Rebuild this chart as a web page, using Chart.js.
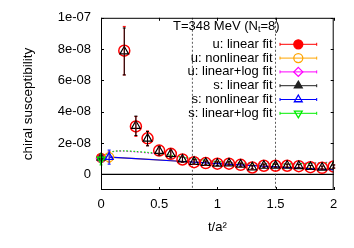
<!DOCTYPE html>
<html>
<head>
<meta charset="utf-8">
<script src="https://cdn.jsdelivr.net/npm/chart.js@4/dist/chart.umd.min.js"></script>
<style>
body { margin: 0; background: #fff; }
</style>
</head>
<body>
<canvas id="grafica" width="354" height="248"></canvas>
<script>
// measured points (flow time t/a^2)
const tData = [0.2, 0.3, 0.4, 0.5, 0.6, 0.7, 0.8, 0.9, 1.0, 1.1, 1.2, 1.3, 1.4, 1.5, 1.6, 1.7, 1.8, 1.9, 2.0];
const uChi = [7.9e-8, 3.06e-8, 2.3e-8, 1.52e-8, 1.31e-8, 0.95e-8, 0.78e-8, 0.72e-8, 0.68e-8, 0.68e-8, 0.61e-8, 0.44e-8, 0.55e-8, 0.55e-8, 0.55e-8, 0.52e-8, 0.46e-8, 0.42e-8, 0.5e-8];
const uErr = [1.55e-8, 0.63e-8, 0.47e-8, 0.28e-8, 0.26e-8, 0.18e-8, 0.15e-8, 0.13e-8, 0.12e-8, 0.12e-8, 0.11e-8, 0.1e-8, 0.1e-8, 0.1e-8, 0.1e-8, 0.1e-8, 0.1e-8, 0.1e-8, 0.1e-8];
const sChi = [7.85e-8, 3.1e-8, 2.28e-8, 1.5e-8, 1.3e-8, 0.95e-8, 0.8e-8, 0.73e-8, 0.68e-8, 0.7e-8, 0.62e-8, 0.45e-8, 0.55e-8, 0.56e-8, 0.55e-8, 0.53e-8, 0.47e-8, 0.43e-8, 0.5e-8];
const sErr = [1.5e-8, 0.62e-8, 0.46e-8, 0.27e-8, 0.25e-8, 0.17e-8, 0.14e-8, 0.12e-8, 0.11e-8, 0.11e-8, 0.1e-8, 0.1e-8, 0.1e-8, 0.1e-8, 0.1e-8, 0.1e-8, 0.1e-8, 0.1e-8, 0.1e-8];

// extrapolated values (u lin, u nonlin, u lin+log, s lin, s nonlin, s lin+log)
const extT = [0, 0.07, 0, 0, 0.07, 0];
const extChi = [1.05e-8, 1.1e-8, 1.0e-8, 1.05e-8, 1.1e-8, 0.95e-8];
const extErr = [0.2e-8, 0.35e-8, 0.2e-8, 0.2e-8, 0.45e-8, 0.35e-8];

// fit curves
const logT = [0, 0.05, 0.1, 0.15, 0.2, 0.3, 0.4, 0.5, 0.6, 0.7, 0.8, 1.0, 1.2, 1.4, 1.6, 1.8, 2.0];
const sLogFit = [0.95e-8, 1.3e-8, 1.45e-8, 1.5e-8, 1.5e-8, 1.46e-8, 1.4e-8, 1.32e-8, 1.22e-8, 1.1e-8, 0.98e-8, 0.82e-8, 0.72e-8, 0.67e-8, 0.66e-8, 0.7e-8, 0.76e-8];
const uLogFit = [1.0e-8, 1.32e-8, 1.45e-8, 1.49e-8, 1.48e-8, 1.44e-8, 1.37e-8, 1.29e-8, 1.19e-8, 1.08e-8, 0.97e-8, 0.81e-8, 0.72e-8, 0.68e-8, 0.68e-8, 0.72e-8, 0.78e-8];
const nonT = [0.07, 0.3, 0.6, 0.8, 1.0, 1.2, 1.5, 1.8, 2.0];
const sNonFit = [1.1e-8, 1.0e-8, 0.87e-8, 0.78e-8, 0.68e-8, 0.6e-8, 0.48e-8, 0.37e-8, 0.28e-8];
const uNonFit = [1.1e-8, 1.0e-8, 0.88e-8, 0.79e-8, 0.7e-8, 0.62e-8, 0.5e-8, 0.4e-8, 0.32e-8];

// fit window limits
const cortes = [0.785, 1.5];

// axes
const xTickVals = [0, 0.5, 1, 1.5, 2];
const xTickLabels = ['0', '0.5', '1', '1.5', '2'];
const yTickVals = [0, 2e-8, 4e-8, 6e-8, 8e-8, 1e-7];
const yTickLabels = ['0', '2e-08', '4e-08', '6e-08', '8e-08', '1e-07'];

const legendLabels = ['u: linear fit', 'u: nonlinear fit', 'u: linear+log fit', 's: linear fit', 's: nonlinear fit', 's: linear+log fit'];
const titulo = ['T=348 MeV (N', 't', '=8)'];

const fuente = "'Liberation Sans', Arial, sans-serif";
const colores = ['#ff0000', '#ffa500', '#ff00ff', '#222222', '#0000ff', '#00ee00'];
const estilos = ['circle', 'circle', 'diamond', 'triangle', 'triangle', 'triangleDown'];
const rellenos = [true, false, false, true, false, false];

function puntos(xs, ys) {
    return xs.map((x, i) => ({x: x, y: ys[i]}));
}

function marca(ctx, estilo, x, y, r, color, relleno) {
    ctx.beginPath();
    if (estilo === 'circle') {
        ctx.arc(x, y, r, 0, Math.PI * 2);
    } else if (estilo === 'diamond') {
        ctx.moveTo(x, y - r); ctx.lineTo(x + r, y); ctx.lineTo(x, y + r); ctx.lineTo(x - r, y);
        ctx.closePath();
    } else {
        const s = estilo === 'triangle' ? 1 : -1;
        ctx.moveTo(x, y - s * r);
        ctx.lineTo(x + r * 0.87, y + s * r * 0.5);
        ctx.lineTo(x - r * 0.87, y + s * r * 0.5);
        ctx.closePath();
    }
    ctx.strokeStyle = color;
    ctx.lineWidth = 1.3;
    if (relleno) { ctx.fillStyle = color; ctx.fill(); }
    ctx.stroke();
}

function barra(ctx, x, yTop, yBot, color) {
    ctx.strokeStyle = color;
    ctx.lineWidth = 1;
    ctx.beginPath();
    ctx.moveTo(x, yTop); ctx.lineTo(x, yBot);
    ctx.moveTo(x - 1.5, yTop); ctx.lineTo(x + 1.5, yTop);
    ctx.moveTo(x - 1.5, yBot); ctx.lineTo(x + 1.5, yBot);
    ctx.stroke();
}

const gnuplotLook = {
    id: 'gnuplotLook',
    beforeDatasetsDraw(chart) {
        const {ctx, chartArea: a, scales: {x, y}} = chart;
        ctx.save();
        // zero line
        ctx.strokeStyle = '#000';
        ctx.lineWidth = 1.3;
        ctx.beginPath();
        ctx.moveTo(a.left, y.getPixelForValue(0));
        ctx.lineTo(a.right, y.getPixelForValue(0));
        ctx.stroke();
        // fit window
        ctx.lineWidth = 0.8;
        ctx.setLineDash([2, 2]);
        ctx.strokeStyle = '#333';
        for (const c of cortes) {
            const px = x.getPixelForValue(c);
            ctx.beginPath();
            ctx.moveTo(px, a.top); ctx.lineTo(px, a.bottom);
            ctx.stroke();
        }
        ctx.restore();
    },
    afterDatasetsDraw(chart) {
        const {ctx, scales: {x, y}} = chart;
        ctx.save();
        chart.data.datasets.forEach(ds => {
            if (!ds.errores) return;
            ds.data.forEach((p, i) => {
                const e = ds.errores[i];
                barra(ctx, x.getPixelForValue(p.x), y.getPixelForValue(p.y + e), y.getPixelForValue(p.y - e), ds.borderColor);
            });
        });
        // extrapolated points
        extT.forEach((t, i) => {
            const px = x.getPixelForValue(t);
            barra(ctx, px, y.getPixelForValue(extChi[i] + extErr[i]), y.getPixelForValue(extChi[i] - extErr[i]), colores[i]);
            marca(ctx, estilos[i], px, y.getPixelForValue(extChi[i]), 4.5, colores[i], rellenos[i]);
        });
        ctx.restore();
    },
    afterDraw(chart) {
        const {ctx, chartArea: a, scales: {x, y}} = chart;
        ctx.save();
        // frame and inward ticks
        ctx.strokeStyle = '#000';
        ctx.lineWidth = 1;
        ctx.strokeRect(a.left + 0.5, a.top + 0.5, a.right - a.left - 1, a.bottom - a.top - 1);
        ctx.beginPath();
        for (const v of yTickVals) {
            const py = Math.round(y.getPixelForValue(v)) + 0.5;
            ctx.moveTo(a.left, py); ctx.lineTo(a.left + 3, py);
            ctx.moveTo(a.right, py); ctx.lineTo(a.right - 3, py);
        }
        for (const v of xTickVals) {
            const px = Math.round(x.getPixelForValue(v)) + 0.5;
            ctx.moveTo(px, a.bottom); ctx.lineTo(px, a.bottom - 3);
            ctx.moveTo(px, a.top); ctx.lineTo(px, a.top + 3);
        }
        ctx.stroke();

        // title with subscript
        ctx.fillStyle = '#000';
        ctx.textBaseline = 'middle';
        ctx.textAlign = 'left';
        ctx.font = '13px ' + fuente;
        let tx = 173;
        ctx.fillText(titulo[0], tx, 26);
        tx += ctx.measureText(titulo[0]).width;
        ctx.font = '9px ' + fuente;
        ctx.fillText(titulo[1], tx, 30);
        tx += ctx.measureText(titulo[1]).width;
        ctx.font = '13px ' + fuente;
        ctx.fillText(titulo[2], tx, 26);

        // legend
        legendLabels.forEach((lab, i) => {
            const ly = 44.3 + i * 13.8;
            ctx.fillStyle = '#000';
            ctx.textAlign = 'right';
            ctx.font = '13px ' + fuente;
            ctx.fillText(lab, 272.5, ly);
            ctx.strokeStyle = colores[i];
            ctx.lineWidth = 1;
            ctx.beginPath();
            ctx.moveTo(280, ly); ctx.lineTo(316.7, ly);
            ctx.moveTo(280, ly - 1.5); ctx.lineTo(280, ly + 1.5);
            ctx.moveTo(316.7, ly - 1.5); ctx.lineTo(316.7, ly + 1.5);
            ctx.stroke();
            marca(ctx, estilos[i], 298.3, ly, 4.5, colores[i], rellenos[i]);
        });
        ctx.restore();
    }
};

const config = {
    type: 'scatter',
    data: {
        datasets: [
            {label: 'u data', data: puntos(tData, uChi), errores: uErr, borderColor: '#ff0000', backgroundColor: 'rgba(0,0,0,0)',
             pointStyle: 'circle', pointRadius: 5.5, borderWidth: 1.5, order: 2},
            {label: 's data', data: puntos(tData, sChi), errores: sErr, borderColor: '#000000', backgroundColor: 'rgba(0,0,0,0)',
             pointStyle: 'triangle', pointRadius: 5, borderWidth: 1.2, order: 1},
            {label: 'u nonlinear', data: puntos(nonT, uNonFit), showLine: true, pointRadius: 0, borderColor: colores[1], borderWidth: 1.2, order: 6},
            {label: 's nonlinear', data: puntos(nonT, sNonFit), showLine: true, pointRadius: 0, borderColor: colores[4], borderWidth: 1.2, order: 5},
            {label: 'u lin+log', data: puntos(logT, uLogFit), showLine: true, pointRadius: 0, borderColor: colores[2], borderWidth: 1.3,
             borderDash: [1.5, 2], tension: 0.3, order: 8},
            {label: 's lin+log', data: puntos(logT, sLogFit), showLine: true, pointRadius: 0, borderColor: colores[5], borderWidth: 1.3,
             borderDash: [1.5, 2], tension: 0.3, order: 7}
        ]
    },
    options: {
        responsive: false,
        animation: false,
        devicePixelRatio: 1,
        layout: {padding: {top: 16, right: 20.3, left: 0, bottom: 0}},
        plugins: {legend: {display: false}, tooltip: {enabled: false}},
        scales: {
            x: {
                min: 0, max: 2,
                afterBuildTicks: s => { s.ticks = xTickVals.map(v => ({value: v})); },
                afterFit: s => { s.height = 58; },
                grid: {display: false, drawTicks: false},
                border: {display: false},
                ticks: {color: '#000', font: {family: fuente, size: 13}, padding: 7, maxRotation: 0,
                        callback: (v, i) => xTickLabels[i]},
                title: {display: true, text: 't/a²', color: '#000', font: {family: fuente, size: 13}, padding: {bottom: 13}}
            },
            y: {
                min: -1e-8, max: 1e-7,
                afterBuildTicks: s => { s.ticks = yTickVals.map(v => ({value: v})); },
                afterFit: s => { s.width = 101; },
                grid: {display: false, drawTicks: false},
                border: {display: false},
                ticks: {color: '#000', font: {family: fuente, size: 13}, padding: 10,
                        callback: (v, i) => yTickLabels[i]},
                title: {display: true, text: 'chiral susceptibility', color: '#000', font: {family: fuente, size: 13.5}, padding: {top: 20}}
            }
        }
    },
    plugins: [gnuplotLook]
};

const ChartPrincipal = new Chart(document.getElementById('grafica'), config);
</script>
</body>
</html>
